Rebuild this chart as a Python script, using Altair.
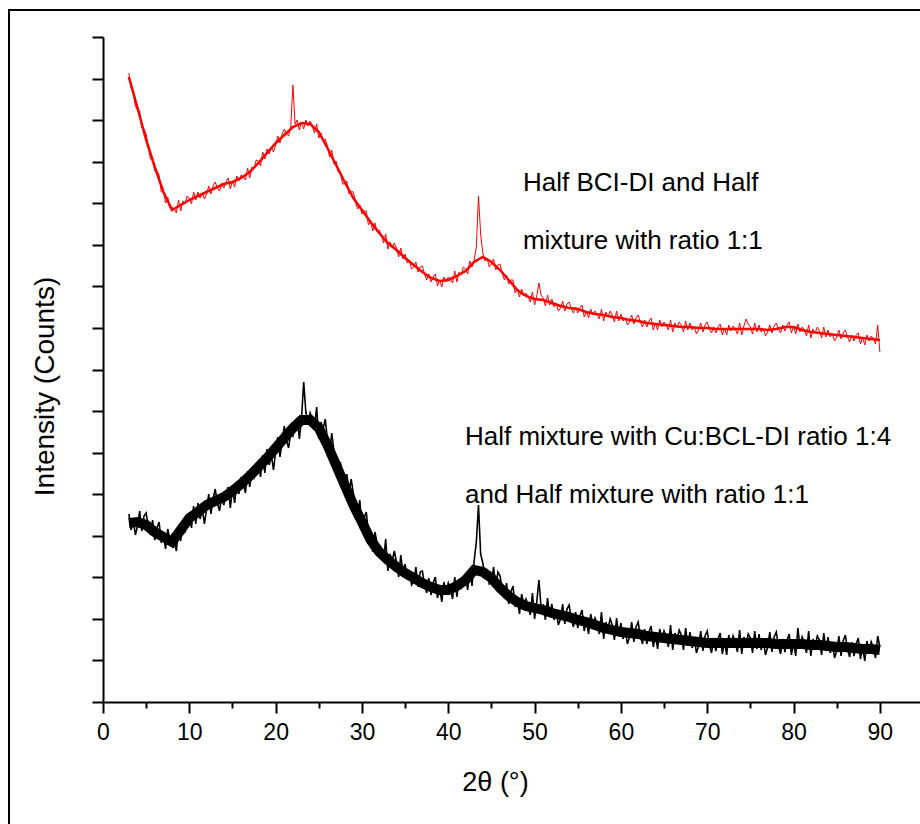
import altair as alt
import pandas as pd

FONT = "Liberation Sans, Arial, Helvetica, sans-serif"

# 2theta sampling of the noisy traces: 3.0 .. 90.0 deg, step 0.25 deg
# Intensity (arbitrary counts), 4 readings per degree
red_counts = [
    629, 614, 610, 596,  592, 591, 574, 573,  568, 554, 543, 544,  531, 531, 527, 510,
    511, 499, 505, 494,  495, 493, 489, 502,  491, 501, 498, 506,  504, 498, 510, 502,
    510, 504, 509, 503,  508, 516, 508, 516,  520, 514, 511, 519,  514, 520, 524, 513,
    521, 515, 526, 521,  527, 525, 522, 534,  524, 535, 533, 542,  541, 536, 550, 543,
    553, 548, 555, 550,  557, 566, 559, 568,  573, 568, 566, 575,  617, 578, 582, 572,
    580, 573, 582, 576,  581, 576, 569, 578,  564, 569, 561, 563,  556, 545, 552, 538,
    541, 530, 530, 518,  518, 521, 508, 511,  510, 500, 493, 497,  488, 491, 491, 477,
    481, 471, 479, 470,  472, 467, 459, 468,  453, 460, 455, 459,  454, 445, 454, 443,
    448, 439, 441, 433,  435, 440, 430, 435,  436, 428, 422, 428,  420, 425, 428, 416,
    422, 415, 425, 420,  425, 423, 419, 431,  420, 430, 427, 435,  433, 428, 441, 435,
    442, 455, 506, 468,  449, 441, 444, 435,  438, 443, 432, 437,  438, 429, 422, 427,
    418, 422, 422, 409,  413, 405, 413, 406,  409, 405, 400, 410,  397, 406, 419, 407,
    404, 396, 407, 397,  403, 395, 399, 391,  394, 401, 391, 398,  400, 393, 389, 395,
    389, 394, 397, 385,  391, 384, 393, 387,  391, 388, 383, 393,  381, 390, 385, 391,
    387, 380, 391, 381,  388, 381, 384, 377,  380, 387, 378, 384,  387, 380, 375, 382,
    375, 381, 384, 372,  379, 372, 382, 375,  380, 377, 372, 382,  370, 379, 375, 380,
    377, 370, 381, 372,  379, 372, 375, 368,  372, 379, 370, 377,  380, 373, 369, 375,
    369, 375, 378, 367,  374, 367, 377, 371,  376, 373, 368, 379,  367, 376, 383, 378,
    375, 368, 379, 370,  377, 370, 373, 366,  370, 377, 369, 376,  379, 373, 369, 377,
    371, 377, 380, 369,  376, 368, 378, 370,  375, 372, 366, 377,  364, 373, 369, 375,
    371, 364, 375, 365,  372, 365, 368, 361,  365, 372, 363, 369,  372, 365, 360, 367,
    361, 367, 369, 358,  365, 357, 367, 361,  366, 363, 358, 377,
    350,
]

black_counts = [
    188, 172, 182, 167,  176, 191, 171, 186,  189, 175, 167, 182,  162, 174, 180, 159,
    167, 153, 173, 162,  167, 161, 151, 173,  161, 178, 171, 181,  189, 174, 196, 178,
    199, 183, 193, 178,  193, 208, 188, 203,  213, 199, 191, 206,  197, 209, 215, 194,
    213, 199, 219, 208,  225, 219, 209, 231,  215, 232, 225, 235,  240, 225, 247, 229,
    253, 237, 247, 232,  250, 265, 245, 260,  276, 262, 254, 269,  266, 278, 284, 263,
    284, 320, 290, 279,  289, 283, 273, 295,  263, 280, 273, 283,  262, 247, 269, 251,
    246, 230, 240, 225,  213, 228, 208, 223,  209, 195, 187, 202,  172, 184, 190, 169,
    164, 150, 170, 159,  157, 151, 141, 163,  131, 148, 141, 151,  140, 125, 147, 129,
    138, 122, 132, 117,  120, 135, 115, 130,  131, 117, 109, 124,  107, 119, 125, 104,
    114, 100, 120, 109,  119, 113, 103, 125,  105, 122, 115, 125,  127, 112, 134, 116,
    141, 160, 197, 148,  139, 123, 133, 118,  120, 135, 115, 130,  126, 112, 104, 119,
    98, 110, 116, 95,    102, 88, 108, 97,    103, 97, 87, 109,    83, 100, 122, 95,
    97, 82, 104, 86,     98, 82, 92, 77,      83, 98, 78, 93,      97, 83, 75, 90,
    74, 86, 92, 71,      82, 68, 88, 77,      84, 78, 68, 90,      63, 80, 73, 83,
    77, 62, 84, 66,      79, 63, 73, 58,      65, 80, 60, 75,      80, 66, 58, 73,
    58, 70, 76, 55,      67, 53, 73, 62,      71, 65, 55, 77,      52, 69, 62, 72,
    67, 52, 74, 56,      70, 54, 64, 49,      56, 71, 51, 66,      71, 57, 49, 64,
    51, 63, 69, 48,      61, 47, 67, 56,      66, 60, 50, 72,      48, 65, 58, 68,
    64, 49, 71, 53,      68, 52, 62, 47,      55, 70, 50, 65,      70, 56, 48, 63,
    50, 62, 68, 47,      60, 46, 74, 55,      65, 59, 49, 71,      46, 63, 56, 66,
    62, 47, 69, 51,      65, 49, 59, 44,      51, 66, 46, 61,      67, 53, 45, 60,
    46, 58, 64, 43,      55, 41, 61, 50,      60, 54, 44, 66,
    55,
]

# Mean level of each trace at whole degrees 3 .. 90 (the dense core of the band)
core_theta = list(range(3, 91))
red_core = [
    625, 594, 562, 535, 510, 492, 497, 502, 506, 510, 514, 518, 520, 524, 530, 539,
    549, 559, 567, 575, 579, 578, 570, 554, 537, 520, 504, 492, 480, 469, 459, 452,
    444, 437, 430, 424, 421, 422, 426, 431, 440, 445, 440, 432, 422, 412, 406, 403,
    402, 399, 396, 394, 393, 390, 388, 387, 385, 384, 382, 381, 379, 378, 377, 376,
    375, 375, 374, 374, 373, 373, 373, 373, 373, 373, 372, 373, 375, 375, 372, 370,
    369, 368, 367, 366, 365, 364, 363, 362,
]
black_core = [
    179, 180, 177, 170, 165, 160, 172, 184, 190, 197, 201, 205, 211, 218, 226, 235,
    244, 254, 264, 274, 282, 282, 274, 257, 237, 217, 197, 180, 162, 150, 142, 135,
    129, 124, 119, 115, 112, 112, 116, 122, 132, 130, 124, 114, 106, 100, 96, 94,
    92, 89, 87, 85, 82, 80, 77, 74, 72, 70, 69, 68, 66, 65, 64, 63,
    62, 61, 60, 59, 59, 59, 59, 59, 59, 59, 59, 58, 58, 58, 58, 57,
    57, 56, 55, 55, 54, 53, 53, 52,
]

two_theta = [round(3.0 + 0.25 * i, 2) for i in range(len(red_counts))]

x_ticks = [0, 5, 10, 15, 20, 25, 30, 35, 40, 45, 50, 55, 60, 65, 70, 75, 80, 85, 90]
y_max = 665
y_ticks = [i * y_max / 32 for i in range(33)]

ann_text = ["Half BCI-DI and Half", "mixture with ratio 1:1",
            "Half mixture with Cu:BCL-DI ratio 1:4", "and Half mixture with ratio 1:1"]
ann_x = [48.65, 48.65, 41.93, 41.93]
ann_y = [511, 453, 257, 199]

red_df = pd.DataFrame({"two_theta": two_theta, "counts": red_counts})
black_df = pd.DataFrame({"two_theta": two_theta[:len(black_counts)], "counts": black_counts})
red_core_df = pd.DataFrame({"two_theta": core_theta, "counts": red_core})
black_core_df = pd.DataFrame({"two_theta": core_theta, "counts": black_core})
ann_df = pd.DataFrame({"x": ann_x, "y": ann_y, "text": ann_text})

x_scale = alt.Scale(domain=[0, 94.65], nice=False, zero=False)
y_scale = alt.Scale(domain=[0, y_max], nice=False)

x_axis = alt.Axis(
    values=x_ticks,
    title="2θ (°)",
    labelExpr="datum.value % 10 === 0 ? datum.label : ''",
    tickSize={"condition": {"test": "datum.value % 10 === 0", "value": 11}, "value": 6},
    labelPadding=8,
    labelFontSize=23,
    labelFlush=False,
    labelOverlap=False,
    titleFontSize=27,
    titleX=392,
    titleY=88,
    titleAnchor="start",
    titleAlign="center",
    titleBaseline="alphabetic",
    grid=False,
)
y_axis = alt.Axis(
    values=y_ticks,
    title="Intensity (Counts)",
    labels=False,
    tickSize={"condition": {"test": "round(datum.value / 20.78125) % 2 === 0", "value": 11}, "value": 6},
    titleFontSize=28,
    titleX=-58,
    titleY=349,
    titleAngle=270,
    titleAlign="center",
    titleBaseline="middle",
    grid=False,
)

base_x = alt.X("two_theta:Q", scale=x_scale, axis=x_axis)
base_y = alt.Y("counts:Q", scale=y_scale, axis=y_axis)

black_band = alt.Chart(black_core_df).mark_line(color="#000000", strokeWidth=10).encode(
    x=base_x, y=base_y
)
black_line = alt.Chart(black_df).mark_line(color="#000000", strokeWidth=1.6).encode(
    x="two_theta:Q", y="counts:Q"
)
red_band = alt.Chart(red_core_df).mark_line(color="#ff0000", strokeWidth=2.5).encode(
    x="two_theta:Q", y="counts:Q"
)
red_line = alt.Chart(red_df).mark_line(color="#ff0000", strokeWidth=1).encode(
    x="two_theta:Q", y="counts:Q"
)
labels = alt.Chart(ann_df).mark_text(
    align="left", baseline="alphabetic", fontSize=26, font=FONT, color="#000000"
).encode(x="x:Q", y="y:Q", text="text:N")

frame_df = pd.DataFrame({"k": [0]})
frame_v = alt.Chart(frame_df).mark_rule(color="#000000", strokeWidth=2).encode(
    x=alt.value(-94), y=alt.value(-28), y2=alt.value(800)
)
frame_h = alt.Chart(frame_df).mark_rule(color="#000000", strokeWidth=2).encode(
    x=alt.value(-95), x2=alt.value(830), y=alt.value(-27)
)

chart = alt.layer(black_band, black_line, red_band, red_line, labels, frame_v, frame_h).properties(
    width=817,
    height=665,
    background="#ffffff",
    autosize=alt.AutoSizeParams(type="none"),
    padding={"left": 103, "top": 37, "right": 0, "bottom": 122},
).configure_axis(
    domainColor="#000000",
    domainWidth=2,
    tickColor="#000000",
    tickWidth=2,
    labelColor="#000000",
    titleColor="#000000",
    labelFont=FONT,
    titleFont=FONT,
    titleFontWeight="normal",
).configure_view(
    stroke="transparent"
)

chart.save("out.html", embed_options={"renderer": "svg", "actions": False})
